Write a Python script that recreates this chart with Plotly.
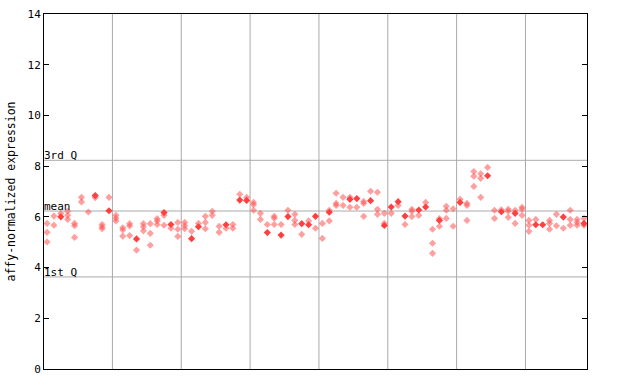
import plotly.graph_objects as go

# per-sample (column) values
hatched = [
    [5.74, 5.39, 5.01], [6.03, 5.67], [6.14], [6.22, 6.06, 5.90], [5.74, 5.65, 5.19],
    [6.77, 6.59], [6.19], [6.76], [5.70, 5.61, 5.53], [6.77],
    [6.06, 5.95, 5.84], [5.57, 5.48, 5.24], [5.73, 5.64, 5.26], [4.69], [5.73, 5.61, 5.45],
    [5.73, 5.35, 4.88], [5.93, 5.84, 5.70], [6.06, 5.67], [5.55], [5.78, 5.51, 5.23],
    [5.78, 5.65, 5.53], [5.43], [5.74], [6.02, 5.78, 5.53], [6.22, 6.06],
    [5.63, 5.39], [5.55], [5.70, 5.55], [6.89], [6.77],
    [6.57, 6.48, 6.26], [6.14, 5.90], [5.70], [6.02, 5.95, 5.70], [5.70],
    [6.26], [6.10, 5.86, 5.70], [5.31], [5.84], [5.55],
    [5.74, 5.15], [6.26, 5.84], [6.93, 6.53, 6.45], [6.77, 6.45], [6.77, 6.38],
    [6.38], [6.61, 6.53, 6.02], [7.01], [6.97, 6.30, 6.10], [6.14, 5.74],
    [6.14], [6.45], [5.70], [6.30, 6.22, 6.01], [6.06],
    [6.57], [5.51, 4.96, 4.56], [5.93, 5.63], [6.42, 6.26, 5.94], [6.32, 5.63],
    [6.69], [6.53, 6.45, 5.86], [7.79, 7.60, 7.20], [7.70, 7.52, 6.77], [7.95],
    [6.26, 5.94], [6.28], [6.30, 6.22, 5.98], [6.26, 5.74], [6.38, 6.30, 6.06],
    [5.86, 5.67, 5.43], [5.90], [], [5.86, 5.74, 5.51], [6.10, 5.65],
    [5.55], [6.26, 5.90, 5.67], [5.90, 5.78, 5.67], [5.94, 5.67],
]
solid = [
    [], [], [6.00], [], [], [], [], [6.84], [], [6.24],
    [], [], [], [5.13], [], [], [], [6.17], [5.70], [],
    [], [5.14], [5.61], [], [], [], [5.69], [], [6.66], [6.65],
    [], [], [5.38], [], [5.28], [6.01], [], [5.73], [5.69], [6.02],
    [], [6.18], [], [], [6.69], [6.72], [], [6.64], [], [5.66],
    [6.39], [6.60], [6.03], [], [6.27], [6.39], [], [5.86], [], [],
    [6.57], [], [], [], [7.62], [], [6.20], [], [6.14], [],
    [], [5.69], [5.69], [], [], [5.99], [], [], [5.74],
]
group_sizes = [10, 10, 10, 10, 10, 10, 10, 9]
quartiles = {"3rd Q": 8.23, "mean": 6.23, "1st Q": 3.63}
y_ticks = [0, 2, 4, 6, 8, 10, 12, 14]
y_title = "affy-normalized expression"

hx, hy, sx, sy = [], [], [], []
for i, vals in enumerate(hatched):
    hx += [i] * len(vals)
    hy += vals
for i, vals in enumerate(solid):
    sx += [i] * len(vals)
    sy += vals

n = len(hatched)
FONT = "DejaVu Sans Mono"
fig = go.Figure()
fig.add_trace(go.Scatter(x=hx, y=hy, mode="markers",
                         marker=dict(symbol="diamond", size=5.5, color="rgba(255,80,80,0.55)",
                                     line=dict(width=0)),
                         hoverinfo="y", showlegend=False))
fig.add_trace(go.Scatter(x=sx, y=sy, mode="markers",
                         marker=dict(symbol="diamond", size=5.5, color="#ff4040",
                                     line=dict(width=0)),
                         hoverinfo="y", showlegend=False))

shapes = []
b = -0.5
for g in group_sizes[:-1]:
    b += g
    shapes.append(dict(type="line", xref="x", yref="paper", x0=b, x1=b, y0=0, y1=1,
                       line=dict(color="#aaaaaa", width=1), layer="below"))
annotations = []
for name, v in quartiles.items():
    shapes.append(dict(type="line", xref="paper", yref="y", x0=0, x1=1, y0=v, y1=v,
                       line=dict(color="#aaaaaa", width=1), layer="below"))
    annotations.append(dict(text=name, xref="paper", yref="y", x=0, y=v,
                            xanchor="left", yanchor="bottom", showarrow=False,
                            font=dict(family=FONT, size=11, color="black"),
                            xshift=-2, yshift=-4))
annotations.append(dict(text=y_title, xref="paper", yref="paper", x=0, y=0.5,
                        xanchor="center", yanchor="middle", textangle=-90,
                        showarrow=False, xshift=-34,
                        font=dict(family=FONT, size=11.5, color="black")))

fig.update_layout(
    width=640, height=384,
    margin=dict(l=44, r=53, t=14, b=15, autoexpand=False),
    paper_bgcolor="white", plot_bgcolor="white",
    shapes=shapes, annotations=annotations,
    font=dict(family=FONT, size=11, color="black"),
)
fig.update_xaxes(range=[-0.44, n - 1 + 0.44], showgrid=False, zeroline=False,
                 showticklabels=False, ticks="", showline=True, linecolor="black",
                 linewidth=1, mirror=True, automargin=False)
fig.update_yaxes(range=[0, 14], tickvals=y_ticks, showgrid=False, zeroline=False,
                 ticks="inside", ticklen=5, tickcolor="black", showline=True,
                 linecolor="black", linewidth=1, mirror="ticks", automargin=False,
                 tickfont=dict(family=FONT, size=11))
fig.write_html("out.html", config={"displayModeBar": False},
               post_script="document.body.style.margin='0';document.body.style.overflow='hidden';")
